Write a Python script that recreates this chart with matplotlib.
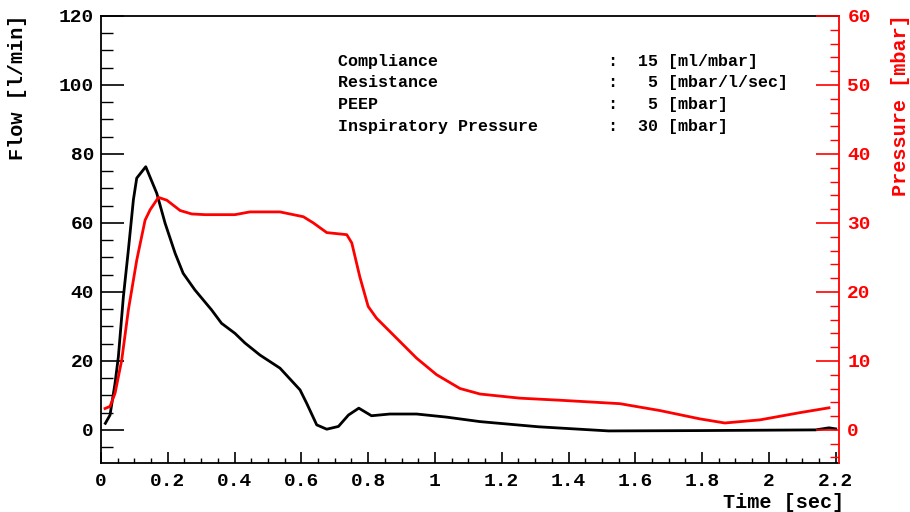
import matplotlib
matplotlib.use("Agg")
import matplotlib.pyplot as plt
from matplotlib.ticker import MultipleLocator

plt.rcParams['font.family'] = ['Liberation Mono', 'DejaVu Sans Mono']
plt.rcParams['font.weight'] = 'bold'

# flow curve (left axis, l/min)
t_flow = [0.013, 0.027, 0.042, 0.052, 0.067, 0.082, 0.097, 0.107, 0.134, 0.167,
          0.192, 0.222, 0.246, 0.281, 0.331, 0.361, 0.401, 0.431, 0.476, 0.536,
          0.596, 0.616, 0.646, 0.676, 0.711, 0.741, 0.772, 0.81, 0.865, 0.945,
          1.035, 1.135, 1.31, 1.52, 1.79, 2.14, 2.18, 2.2]
flow = [1.9, 4.3, 13.5, 21.2, 38.6, 52.2, 66.7, 73.0, 76.3, 68.6,
        59.9, 51.2, 45.4, 40.6, 34.8, 30.9, 28.0, 25.2, 21.7, 17.9,
        11.6, 7.7, 1.45, 0.2, 1.0, 4.3, 6.3, 4.1, 4.6, 4.6,
        3.7, 2.4, 0.9, -0.3, -0.2, 0.0, 0.6, 0.3]

# pressure curve (right axis, mbar)
t_pres = [0.012, 0.027, 0.042, 0.062, 0.082, 0.107, 0.132, 0.147, 0.172, 0.197,
          0.237, 0.272, 0.312, 0.401, 0.446, 0.536, 0.606, 0.636, 0.676, 0.736,
          0.751, 0.775, 0.8, 0.825, 0.885, 0.945, 1.005, 1.075, 1.135, 1.254,
          1.374, 1.554, 1.674, 1.793, 1.868, 1.973, 2.093, 2.18]
pressure = [3.1, 3.4, 5.3, 10.1, 17.4, 24.6, 30.4, 31.9, 33.7, 33.3,
            31.8, 31.3, 31.2, 31.2, 31.6, 31.6, 30.9, 30.0, 28.6, 28.3,
            27.1, 22.2, 17.9, 16.2, 13.3, 10.4, 8.0, 6.0, 5.2, 4.6,
            4.3, 3.8, 2.8, 1.6, 1.0, 1.45, 2.5, 3.2]

param_names = ["Compliance", "Resistance", "PEEP", "Inspiratory Pressure"]
param_values = [15, 5, 5, 30]
param_units = ["ml/mbar", "mbar/l/sec", "mbar", "mbar"]

W, H = 910, 512
fig = plt.figure(figsize=(W / 100, H / 100), dpi=100)
ax = fig.add_axes([101 / W, 1 - 463 / H, (839 - 101) / W, (463 - 16) / H])
ax2 = ax.twinx()

ax.plot(t_flow, flow, color='black', lw=2.0, solid_joinstyle='round', zorder=3)
ax2.plot(t_pres, pressure, color='red', lw=2.0, solid_joinstyle='round', zorder=3)

ax.set_xlim(0, 2.21)
ax.set_ylim(-9.6, 120)
ax2.set_ylim(-4.8, 60)

ax.xaxis.set_major_locator(MultipleLocator(0.2))
ax.xaxis.set_minor_locator(MultipleLocator(0.05))
ax.yaxis.set_major_locator(MultipleLocator(20))
ax.yaxis.set_minor_locator(MultipleLocator(5))
ax2.yaxis.set_major_locator(MultipleLocator(10))
ax2.yaxis.set_minor_locator(MultipleLocator(2))

ax.xaxis.set_major_formatter(lambda v, p: f"{v:g}")

ax.tick_params(axis='x', which='major', direction='in', length=8, width=1.2,
               labelsize=14, pad=7, top=False)
ax.tick_params(axis='x', which='minor', direction='in', length=3.6, width=1.0, top=False)
ax.tick_params(axis='y', which='major', direction='in', length=16.5, width=1.2,
               labelsize=14, pad=5, right=False)
ax.tick_params(axis='y', which='minor', direction='in', length=8.5, width=1.0, right=False)
ax2.tick_params(axis='y', which='major', direction='in', length=16.5, width=1.2,
                labelsize=14, pad=6, colors='red')
ax2.tick_params(axis='y', which='minor', direction='in', length=6.5, width=1.0, colors='red')

for sp in ax.spines.values():
    sp.set_linewidth(1.3)
ax.spines['right'].set_visible(False)
ax2.spines['left'].set_visible(False)
ax2.spines['top'].set_visible(False)
ax2.spines['bottom'].set_visible(False)
ax2.spines['right'].set_color('red')
ax2.spines['right'].set_linewidth(1.3)

fig.text(18 / W, 1 - 14 / H, "Flow [l/min]", rotation=90, ha='center', va='top',
         fontsize=14.5, fontweight='bold')
fig.text(900 / W, 1 - 14 / H, "Pressure [mbar]", rotation=90, ha='center', va='top',
         fontsize=14.5, fontweight='bold', color='red')
fig.text(844 / W, 1 - 503 / H, "Time [sec]", ha='right', va='center',
         fontsize=14.5, fontweight='bold')

for i, (n, v, u) in enumerate(zip(param_names, param_values, param_units)):
    line = f"{n:<27}:  {v:>2} [{u}]"
    fig.text(338 / W, 1 - (61.5 + 21.5 * i) / H, line, ha='left', va='center',
             fontsize=12, fontweight='bold')

fig.savefig("out.png", dpi=100)
